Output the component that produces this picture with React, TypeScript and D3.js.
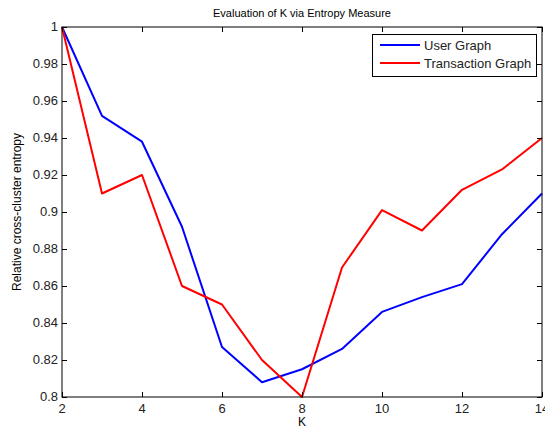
import { useEffect, useRef } from 'react';
import * as d3 from 'd3';

const K = [2, 3, 4, 5, 6, 7, 8, 9, 10, 11, 12, 13, 14];
const USER_GRAPH = [1.0, 0.952, 0.938, 0.892, 0.827, 0.808, 0.815, 0.826, 0.846, 0.854, 0.861, 0.888, 0.91];
const TRANSACTION_GRAPH = [1.0, 0.91, 0.92, 0.86, 0.85, 0.82, 0.8, 0.87, 0.901, 0.89, 0.912, 0.923, 0.94];
const X_TICKS = [2, 4, 6, 8, 10, 12, 14];
const Y_TICKS = [0.8, 0.82, 0.84, 0.86, 0.88, 0.9, 0.92, 0.94, 0.96, 0.98, 1];

const SERIES = [
  { name: 'User Graph', values: USER_GRAPH, color: '#0000ff' },
  { name: 'Transaction Graph', values: TRANSACTION_GRAPH, color: '#ff0000' },
];

export default function App() {
  const svgRef = useRef<SVGSVGElement>(null);

  useEffect(() => {
    if (!svgRef.current) return;
    const svg = d3.select(svgRef.current);
    svg.selectAll('*').remove();

    const W = 545, H = 432;
    const L = 62, R = 542, T = 27, B = 397;
    const font = '"Liberation Sans", Arial, sans-serif';

    const x = d3.scaleLinear().domain([2, 14]).range([L, R]);
    const y = d3.scaleLinear().domain([0.8, 1]).range([B, T]);

    svg.append('rect').attr('width', W).attr('height', H).attr('fill', '#fff');

    // title
    svg.append('text')
      .attr('x', (L + R) / 2).attr('y', 17)
      .attr('text-anchor', 'middle')
      .attr('font-family', font).attr('font-size', 11)
      .text('Evaluation of K via Entropy Measure');

    // lines
    const line = d3.line<number>()
      .x((_, i) => x(K[i]))
      .y((d) => y(d));

    SERIES.forEach((s) => {
      svg.append('path')
        .attr('d', line(s.values)!)
        .attr('fill', 'none')
        .attr('stroke', s.color)
        .attr('stroke-width', 2)
        .attr('stroke-linejoin', 'round');
    });

    // axes box + ticks
    const g = svg.append('g').attr('stroke', '#000').attr('stroke-width', 1);
    g.append('rect')
      .attr('x', L).attr('y', T)
      .attr('width', R - L).attr('height', B - T)
      .attr('fill', 'none');

    X_TICKS.forEach((t) => {
      const xt = Math.round(x(t)) + 0.5;
      g.append('line').attr('x1', xt).attr('x2', xt).attr('y1', B).attr('y2', B - 5);
      g.append('line').attr('x1', xt).attr('x2', xt).attr('y1', T).attr('y2', T + 5);
      svg.append('text')
        .attr('x', x(t)).attr('y', B + 16)
        .attr('text-anchor', 'middle')
        .attr('font-family', font).attr('font-size', 13).attr('fill', '#222')
        .text(t);
    });

    Y_TICKS.forEach((t) => {
      const yt = Math.round(y(t)) + 0.5;
      g.append('line').attr('x1', L).attr('x2', L + 5).attr('y1', yt).attr('y2', yt);
      g.append('line').attr('x1', R).attr('x2', R - 5).attr('y1', yt).attr('y2', yt);
      svg.append('text')
        .attr('x', L - 4).attr('y', y(t) + 4)
        .attr('text-anchor', 'end')
        .attr('font-family', font).attr('font-size', 13).attr('fill', '#222')
        .text(d3.format('~g')(t));
    });

    // axis labels
    svg.append('text')
      .attr('x', (L + R) / 2).attr('y', B + 29)
      .attr('text-anchor', 'middle')
      .attr('font-family', font).attr('font-size', 12)
      .text('K');

    svg.append('text')
      .attr('transform', `translate(21,${(T + B) / 2}) rotate(-90)`)
      .attr('text-anchor', 'middle')
      .attr('font-family', font).attr('font-size', 12)
      .text('Relative cross-cluster entropy');

    // legend
    const lg = svg.append('g');
    lg.append('rect')
      .attr('x', 372.5).attr('y', 34.5)
      .attr('width', 164).attr('height', 42)
      .attr('fill', '#fff').attr('stroke', '#000');
    SERIES.forEach((s, i) => {
      const ly = 45 + i * 18;
      lg.append('line')
        .attr('x1', 380).attr('x2', 420)
        .attr('y1', ly).attr('y2', ly)
        .attr('stroke', s.color).attr('stroke-width', 2);
      lg.append('text')
        .attr('x', 424).attr('y', ly + 4.5)
        .attr('font-family', font).attr('font-size', 13).attr('fill', '#222')
        .text(s.name);
    });
  }, []);

  return (
    <svg
      ref={svgRef}
      width={545}
      height={432}
      style={{ position: 'absolute', left: 0, top: 0, display: 'block' }}
    />
  );
}
